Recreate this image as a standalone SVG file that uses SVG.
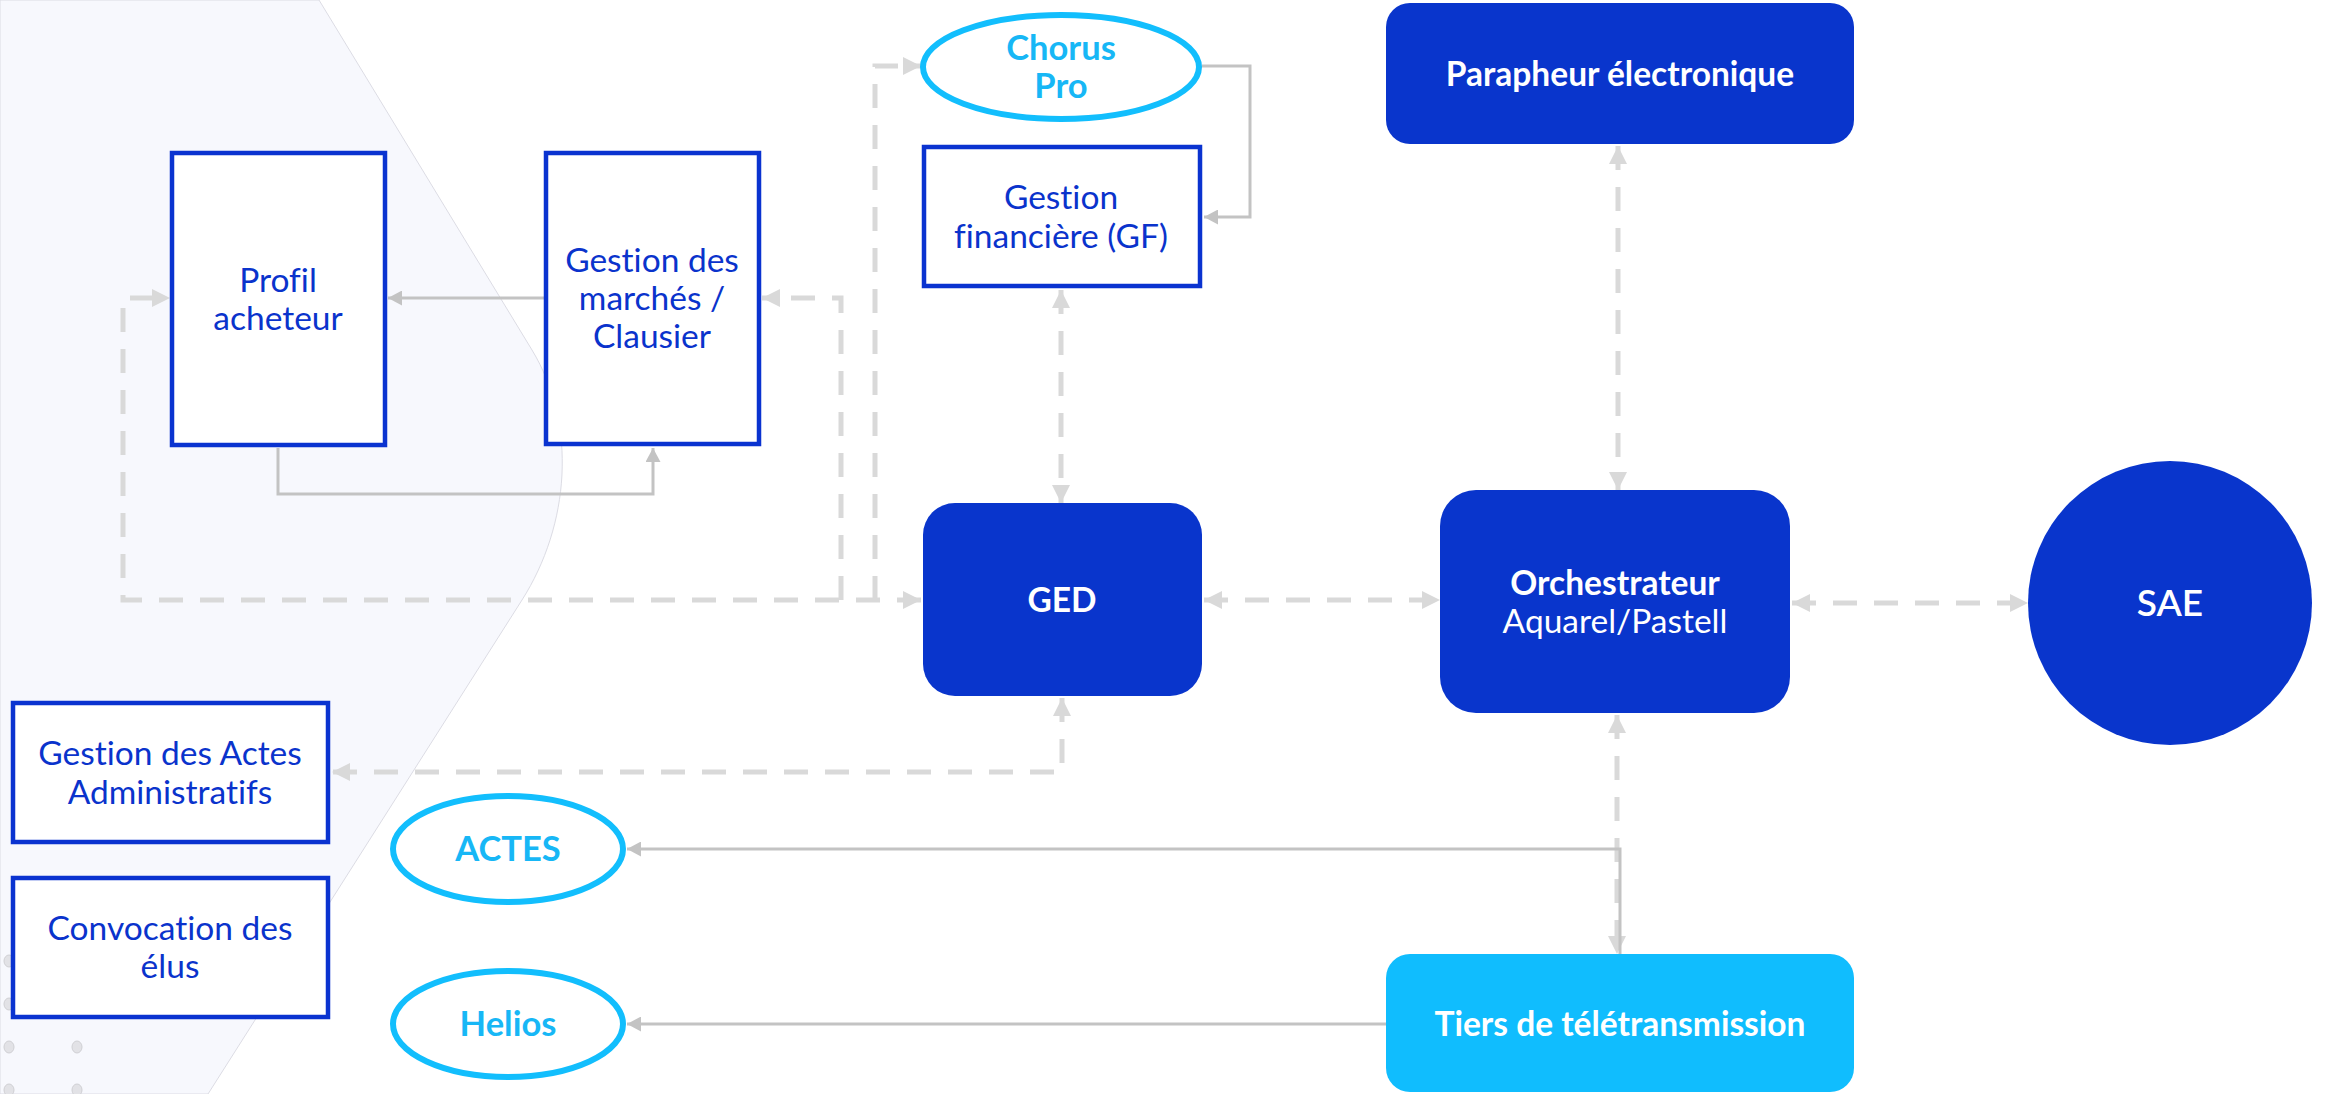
<svg xmlns="http://www.w3.org/2000/svg" width="2326" height="1094" viewBox="0 0 2326 1094">
  <style>
    .box{fill:#ffffff;stroke:#0a33d0;stroke-width:4.5}
    .dark{fill:#0935cc}
    .cyan{fill:#10bdfe}
    .ell{fill:#ffffff;stroke:#12befd;stroke-width:6}
    .t{font-family:Lato,"Liberation Sans",sans-serif;text-anchor:middle;font-variant-ligatures:none}
    .tb{fill:#0a33cc;font-size:33.5px}
    .tw{fill:#ffffff;font-size:33.5px}
    .tc{fill:#17b7f6;font-size:34.5px;font-weight:bold}
    .b{font-weight:bold}
    .dash{fill:none;stroke:#d9d9d9;stroke-width:5;stroke-dasharray:24 17}
    .solid{fill:none;stroke:#c3c3c3;stroke-width:3}
    .dot{fill:#e2e2e6;stroke:#d0d0d4;stroke-width:1}
  </style>
  <defs>
    <marker id="ad" markerUnits="userSpaceOnUse" viewBox="0 0 18 18" markerWidth="18" markerHeight="18" refX="18" refY="9" orient="auto-start-reverse">
      <path d="M0,0 L18,9 L0,18 Z" fill="#d9d9d9"/>
    </marker>
    <marker id="as" markerUnits="userSpaceOnUse" viewBox="0 0 14 15" markerWidth="14" markerHeight="15" refX="14" refY="7.5" orient="auto-start-reverse">
      <path d="M0,0 L14,7.5 L0,15 Z" fill="#c3c3c3"/>
    </marker>
  </defs>

  <g id="background">
    <path d="M0,0 L319,0 L532,350 C577.5,425 569.7,525 522,600 L208,1094 L0,1094 Z" fill="#f7f8fd" stroke="#dcdce4" stroke-width="1"/>
    <ellipse class="dot" cx="9" cy="961" rx="5" ry="6"/>
    <ellipse class="dot" cx="9" cy="1004" rx="5" ry="6"/>
    <ellipse class="dot" cx="9" cy="1047" rx="5" ry="6"/>
    <ellipse class="dot" cx="77" cy="1047" rx="5" ry="6"/>
    <ellipse class="dot" cx="9" cy="1090" rx="5" ry="6"/>
    <ellipse class="dot" cx="77" cy="1090" rx="5" ry="6"/>
  </g>

  <g id="connectors">
    <path class="dash" d="M921,600 L123,600 L123,298 L170,298" marker-start="url(#ad)" marker-end="url(#ad)"/>
    <path class="dash" d="M841,600 L841,298 L762,298" marker-end="url(#ad)"/>
    <path class="dash" d="M875,600 L875,66 L921,66" marker-end="url(#ad)"/>
    <path class="dash" d="M1061,290 L1061,503" marker-start="url(#ad)" marker-end="url(#ad)"/>
    <path class="dash" d="M1618,146 L1618,490" marker-start="url(#ad)" marker-end="url(#ad)"/>
    <path class="dash" d="M1204,600 L1440,600" marker-start="url(#ad)" marker-end="url(#ad)"/>
    <path class="dash" d="M1792,603 L2028,603" marker-start="url(#ad)" marker-end="url(#ad)"/>
    <path class="dash" d="M1062,698 L1062,772 L332,772" marker-start="url(#ad)" marker-end="url(#ad)"/>
    <path class="dash" d="M1617,715 L1617,954" marker-start="url(#ad)" marker-end="url(#ad)"/>
    <path class="solid" d="M544,298 L388,298" marker-end="url(#as)"/>
    <path class="solid" d="M278,448 L278,494 L653,494 L653,448" marker-end="url(#as)"/>
    <path class="solid" d="M1202,66 L1250,66 L1250,217 L1204,217" marker-end="url(#as)"/>
    <path class="solid" d="M1620,954 L1620,849 L627,849" marker-end="url(#as)"/>
    <path class="solid" d="M1386,1024 L627,1024" marker-end="url(#as)"/>
  </g>

  <g id="profil-acheteur">
    <rect class="box" x="172" y="153" width="213" height="292"/>
    <text class="t tb" x="278" y="292">Profil</text>
    <text class="t tb" x="278" y="330">acheteur</text>
  </g>

  <g id="gestion-marches">
    <rect class="box" x="546" y="153" width="213" height="291"/>
    <text class="t tb" x="652" y="272">Gestion des</text>
    <text class="t tb" x="652" y="310">marchés /</text>
    <text class="t tb" x="652" y="348">Clausier</text>
  </g>

  <g id="chorus-pro">
    <ellipse class="ell" cx="1061" cy="67" rx="138" ry="52"/>
    <text class="t tc" x="1061" y="60">Chorus</text>
    <text class="t tc" x="1061" y="98">Pro</text>
  </g>

  <g id="gestion-financiere">
    <rect class="box" x="924" y="147" width="276" height="139"/>
    <text class="t tb" x="1061" y="209">Gestion</text>
    <text class="t tb" x="1061" y="248">financière (GF)</text>
  </g>

  <g id="parapheur">
    <rect class="dark" x="1386" y="3" width="468" height="141" rx="24"/>
    <text class="t tw b" x="1620" y="86">Parapheur électronique</text>
  </g>

  <g id="ged">
    <rect class="dark" x="923" y="503" width="279" height="193" rx="32"/>
    <text class="t tw b" x="1062" y="612">GED</text>
  </g>

  <g id="orchestrateur">
    <rect class="dark" x="1440" y="490" width="350" height="223" rx="36"/>
    <text class="t tw b" x="1615" y="595">Orchestrateur</text>
    <text class="t tw" x="1615" y="633">Aquarel/Pastell</text>
  </g>

  <g id="sae">
    <circle class="dark" cx="2170" cy="603" r="142"/>
    <text class="t tw" x="2170" y="616" style="font-weight:600;font-size:37px">SAE</text>
  </g>

  <g id="gestion-actes">
    <rect class="box" x="13" y="703" width="315" height="139"/>
    <text class="t tb" x="170" y="765">Gestion des Actes</text>
    <text class="t tb" x="170" y="804">Administratifs</text>
  </g>

  <g id="convocation">
    <rect class="box" x="13" y="878" width="315" height="139"/>
    <text class="t tb" x="170" y="940">Convocation des</text>
    <text class="t tb" x="170" y="978">élus</text>
  </g>

  <g id="actes">
    <ellipse class="ell" cx="508" cy="849" rx="115" ry="53"/>
    <text class="t tc" x="508" y="861">ACTES</text>
  </g>

  <g id="helios">
    <ellipse class="ell" cx="508" cy="1024" rx="115" ry="53"/>
    <text class="t tc" x="508" y="1036">Helios</text>
  </g>

  <g id="tiers">
    <rect class="cyan" x="1386" y="954" width="468" height="138" rx="24"/>
    <text class="t tw b" x="1620" y="1036">Tiers de télétransmission</text>
  </g>
</svg>
